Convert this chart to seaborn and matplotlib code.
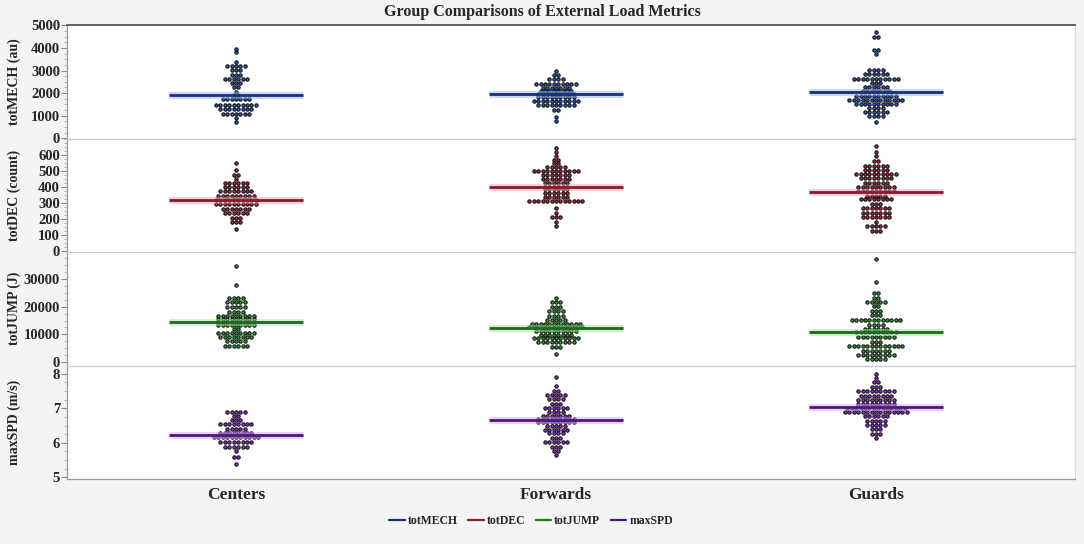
# plot.py
# Group comparisons of external load metrics - stacked dot plots with seaborn

import numpy as np
import pandas as pd
import matplotlib
matplotlib.use("Agg")
import matplotlib.pyplot as plt
from matplotlib.ticker import AutoMinorLocator
from matplotlib.lines import Line2D
import seaborn as sns

groups = ["Centers", "Forwards", "Guards"]

# totMECH (au): dot rows (level, count)
mech_c_lv = [3970, 3820, 3400, 3200, 3020, 2820, 2640, 2430, 2250, 2040, 1900, 1720, 1480, 1300, 1080, 900, 710]
mech_c_n = [1, 1, 1, 5, 3, 3, 6, 3, 2, 1, 2, 7, 10, 8, 7, 1, 1]
mech_f_lv = [2990, 2800, 2610, 2420, 2225, 2080, 1960, 1840, 1640, 1460, 1250, 930, 750]
mech_f_n = [1, 2, 4, 10, 7, 8, 9, 9, 11, 9, 2, 1, 1]
mech_g_lv = [4690, 4470, 3920, 3730, 3035, 2845, 2620, 2450, 2255, 2080, 1885, 1710, 1530, 1340, 1150, 975, 735]
mech_g_n = [1, 2, 2, 1, 4, 6, 11, 3, 6, 7, 10, 13, 10, 4, 6, 4, 1]

# totDEC (count)
dec_c_lv = [552, 505, 478, 451, 426, 400, 373, 346, 320, 291, 263, 234, 206, 179, 137]
dec_c_n = [1, 1, 2, 1, 6, 6, 8, 9, 10, 10, 7, 6, 3, 3, 1]
dec_f_lv = [644, 619, 596, 567, 550, 529, 501, 474, 449, 423, 402, 385, 360, 335, 312, 270, 240, 213, 181, 154]
dec_f_n = [1, 1, 1, 2, 2, 5, 11, 7, 7, 6, 6, 6, 6, 6, 13, 1, 1, 3, 1, 1]
dec_g_lv = [659, 623, 596, 565, 535, 508, 480, 455, 428, 402, 375, 347, 322, 295, 268, 240, 213, 181, 154, 124]
dec_g_n = [1, 1, 1, 2, 6, 6, 10, 8, 6, 9, 9, 5, 8, 3, 7, 7, 7, 1, 5, 3]

# totJUMP (J)
jump_c_lv = [34670, 27880, 23140, 21530, 19850, 18250, 16680, 15470, 14380, 13500, 12040, 10580, 9120, 7550, 5730]
jump_c_n = [1, 1, 4, 5, 5, 4, 9, 9, 9, 9, 2, 9, 8, 5, 6]
jump_f_lv = [23250, 21790, 19960, 18390, 16790, 15330, 13870, 12660, 11090, 9630, 8650, 7190, 5360, 2810]
jump_f_n = [1, 3, 3, 4, 4, 5, 12, 13, 10, 8, 11, 9, 3, 1]
jump_g_lv = [37230, 28720, 24820, 23250, 21530, 20210, 18610, 17150, 15220, 13500, 12040, 10840, 9120, 7300, 5730, 4160, 2550, 1100]
jump_g_n = [1, 1, 2, 2, 5, 2, 3, 3, 12, 4, 6, 10, 9, 3, 13, 7, 9, 5]

# maxSPD (m/s)
spd_c_lv = [6.89, 6.77, 6.65, 6.54, 6.41, 6.29, 6.17, 6.02, 5.88, 5.77, 5.59, 5.38]
spd_c_n = [5, 2, 3, 8, 5, 8, 11, 8, 6, 1, 2, 1]
spd_f_lv = [7.90, 7.65, 7.50, 7.38, 7.26, 7.13, 7.02, 6.90, 6.79, 6.68, 6.59, 6.50, 6.38, 6.27, 6.15, 6.02, 5.89, 5.77, 5.65]
spd_f_n = [1, 1, 2, 5, 4, 3, 6, 4, 7, 9, 9, 5, 6, 4, 3, 6, 3, 2, 1]
spd_g_lv = [8.00, 7.88, 7.76, 7.62, 7.50, 7.37, 7.25, 7.13, 7.02, 6.88, 6.77, 6.64, 6.52, 6.39, 6.26, 6.13]
spd_g_n = [1, 1, 2, 3, 9, 8, 9, 9, 14, 15, 6, 5, 5, 3, 3, 1]

# group mean lines
mech_means = [1920, 1960, 2050]
dec_means = [320, 402, 370]
jump_means = [14400, 12300, 10700]
spd_means = [6.23, 6.65, 7.04]

DOT_STEP = 0.0138  # horizontal spacing of stacked dots (x units)


# Function to build a long table for one metric, dots centred in each row
def build_df(levels, counts):
    rows = []
    for gi, (g, lv, n) in enumerate(zip(groups, levels, counts)):
        for v, c in zip(lv, n):
            offs = (np.arange(c) - (c - 1) / 2) * DOT_STEP
            for o in offs:
                rows.append((g, gi + o, v))
    return pd.DataFrame(rows, columns=["group", "xpos", "value"])


metrics = [
    dict(label="totMECH (au)", df=build_df([mech_c_lv, mech_f_lv, mech_g_lv], [mech_c_n, mech_f_n, mech_g_n]),
         means=mech_means, face="#2f58b0", line="#1b2f78", halo="#8fb0f0",
         ylim=(-15, 5020), ticks=[0, 1000, 2000, 3000, 4000, 5000]),
    dict(label="totDEC (count)", df=build_df([dec_c_lv, dec_f_lv, dec_g_lv], [dec_c_n, dec_f_n, dec_g_n]),
         means=dec_means, face="#a82840", line="#8a1a2c", halo="#f5a0b4",
         ylim=(-8, 705), ticks=[0, 100, 200, 300, 400, 500, 600]),
    dict(label="totJUMP (J)", df=build_df([jump_c_lv, jump_f_lv, jump_g_lv], [jump_c_n, jump_f_n, jump_g_n]),
         means=jump_means, face="#2e9a2e", line="#1a6a1a", halo="#9ee09e",
         ylim=(-1200, 39700), ticks=[0, 10000, 20000, 30000]),
    dict(label="maxSPD (m/s)", df=build_df([spd_c_lv, spd_f_lv, spd_g_lv], [spd_c_n, spd_f_n, spd_g_n]),
         means=spd_means, face="#8a30c8", line="#4a1a78", halo="#d6a0f5",
         ylim=(4.95, 8.24), ticks=[5, 6, 7, 8]),
]

legend_colors = ["#1f2f6e", "#8b1e2e", "#1e7a1e", "#3b1f6e"]
legend_names = ["totMECH", "totDEC", "totJUMP", "maxSPD"]


def main():
    sns.set_theme(style="white")
    plt.rcParams["font.family"] = ["Liberation Serif", "DejaVu Serif"]
    plt.rcParams["font.weight"] = "bold"

    fig, axes = plt.subplots(4, 1, figsize=(10.84, 5.44), dpi=100, sharex=True,
                             gridspec_kw=dict(hspace=0))
    fig.patch.set_facecolor("#f4f4f4")
    fig.subplots_adjust(left=0.0618, right=0.9917, top=0.954, bottom=0.1195)

    for i, (ax, m) in enumerate(zip(axes, metrics)):
        ax.set_facecolor("white")
        sns.scatterplot(data=m["df"], x="xpos", y="value", ax=ax, color=m["face"],
                        edgecolor="#0a0a0a", linewidth=0.7, s=6.0, zorder=3, legend=False)
        # mean lines with a light halo
        for k, mu in enumerate(m["means"]):
            ax.hlines(mu, k - 0.21, k + 0.21, color=m["halo"], lw=5, alpha=0.5, zorder=4)
            ax.hlines(mu, k - 0.21, k + 0.21, color=m["line"], lw=2.0, zorder=5)

        ax.set_xlim(-0.528, 2.622)
        ax.set_ylim(*m["ylim"])
        ax.set_yticks(m["ticks"])
        ax.yaxis.set_minor_locator(AutoMinorLocator(4))
        ax.tick_params(axis="y", which="major", left=True, length=4, width=0.8,
                       color="#888888", labelsize=10.5, pad=1)
        ax.tick_params(axis="y", which="minor", left=True, length=2, width=0.6, color="#aaaaaa")
        for t in ax.get_yticklabels():
            t.set_fontweight("bold")
        ax.set_ylabel(m["label"], fontsize=10, fontweight="bold", labelpad=2)
        ax.set_xlabel("")

        for s in ["left", "right", "top", "bottom"]:
            ax.spines[s].set_visible(True)
            ax.spines[s].set_linewidth(0.9)
        ax.spines["left"].set_color("#999999")
        ax.spines["right"].set_color("#dddddd")
        ax.spines["top"].set_color("#cccccc" if i > 0 else "#555555")
        ax.spines["bottom"].set_color("#cccccc" if i < 3 else "#999999")

    axes[0].spines["top"].set_linewidth(1.3)
    axes[-1].set_xticks(range(len(groups)))
    axes[-1].set_xticklabels(groups)
    axes[-1].tick_params(axis="x", length=0, labelsize=12.5, pad=6)
    for t in axes[-1].get_xticklabels():
        t.set_fontweight("bold")
    fig.align_ylabels(axes)

    fig.text(0.5, 1 - 12 / 544, "Group Comparisons of External Load Metrics",
             ha="center", va="center", fontsize=11.5, fontweight="bold")

    handles = [Line2D([0], [0], color=c, lw=1.6) for c in legend_colors]
    fig.legend(handles, legend_names, loc="center", bbox_to_anchor=(0.49, 1 - 521 / 544),
               ncol=4, frameon=False, handlelength=1.3, handletextpad=0.25,
               columnspacing=0.9, prop=dict(weight="bold", size=8.5))

    fig.savefig("out.png", dpi=100, facecolor=fig.get_facecolor())


if __name__ == "__main__":
    main()
